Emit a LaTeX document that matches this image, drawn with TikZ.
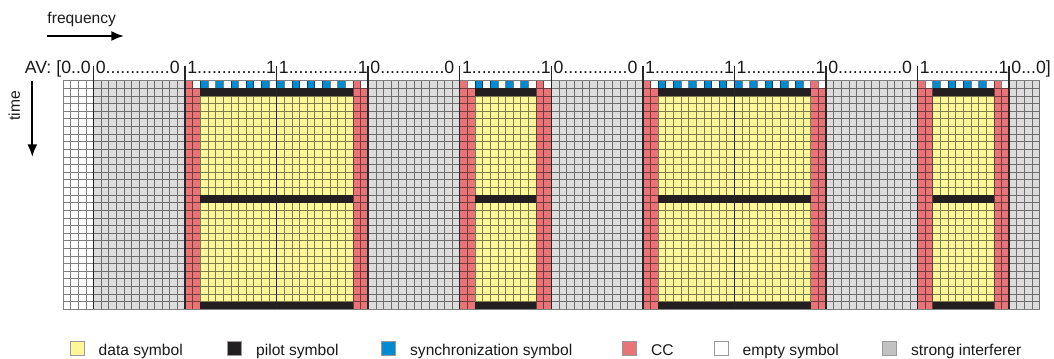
\documentclass[tikz,border=0pt]{standalone}
\usepackage{fontspec}
\setmainfont{Liberation Sans}
\usetikzlibrary{arrows.meta,positioning}

\begin{document}
\begin{tikzpicture}[
        x=0.75pt, y=-0.75pt,
    every node/.style={inner sep=0pt, outer sep=0pt},
    avlabel/.style={font=\fontsize{13.3}{16}\selectfont, text=black!90},
    keylabel/.style={font=\fontsize{11.7}{14}\selectfont, text=black!90},
    keybox/.style={draw=black!40, line width=0.5pt, minimum size=10.5pt},
    cellline/.style={draw=black, draw opacity=0.5, line width=0.5pt},
    bandline/.style={draw=black!85, line width=1.1pt},
    axisarrow/.style={line width=1.5pt, -{Latex[length=9.5pt,width=7.5pt]}}
]
\definecolor{dtx}{HTML}{FFF799}
\definecolor{plx}{HTML}{231F20}
\definecolor{syx}{HTML}{008AD2}
\definecolor{ccx}{HTML}{E87477}
\definecolor{ifx}{HTML}{DCDCDC}
\definecolor{ifkey}{HTML}{C2C2C2}

    \useasboundingbox (0,0) rectangle (1054,358);

    \node [keylabel, anchor=base west] (freq) at (47.5,23.3) {frequency};
    \coordinate (fa) at (47,36);
    \coordinate (fb) at (124,36);
    \draw [axisarrow] (fa) -- (fb);

    \node [keylabel, rotate=90, anchor=base] (time) at (20,106) {time};
    \coordinate (ta) at (32.3,81);
    \coordinate (tb) at (32.3,157);
    \draw [axisarrow] (ta) -- (tb);

    % one cell per symbol: 128 subcarriers, 30 symbols
    \begin{scope}[shift={(63,80.7)}, x=5.7225pt, y=-5.715pt]
    \fill [ifx] (4,0) rectangle (128,30);
    \foreach \a/\b/\n in {16/40/18, 52/64/6, 76/100/18, 112/124/6} {
        \fill [ccx] (\a,0) rectangle (\a+2,30);
        \fill [ccx] (\b-2,0) rectangle (\b,30);
        \fill [white] (\a+1,0) rectangle (\b-2,1);
        \fill [white] (\b-1,0) rectangle (\b,1);
        \fill [dtx] (\a+2,2) rectangle (\b-2,30);
        \foreach \k in {0,2,...,\n}
            \fill [syx] (\a+2+\k,0) rectangle ++(1,1);
    }
    \draw [cellline]
        \foreach \i in {0,...,128} {(\i,0) -- (\i,30)}
        \foreach \j in {0,...,30} {(0,\j) -- (128,\j)};
    \foreach \a/\b in {16/40, 52/64, 76/100, 112/124}
        \foreach \r in {1,15,29}
            \fill [plx] (\a+2,\r) rectangle (\b-2,\r+1);
    \foreach \c in {4,16,...,124}
        \draw [bandline] (\c,-1.95) -- (\c,30);

    \node [avlabel, anchor=base east] (av) at (3.65,-1.01) {AV: [0..0};
    \node [avlabel, anchor=base west] (z1) at (4.3,-1.01) {0.............0};
    \node [avlabel, anchor=base west] (o1) at (16.3,-1.01) {1..............1};
    \node [avlabel, anchor=base west] (o2) at (28.3,-1.01) {1..............1};
    \node [avlabel, anchor=base west] (z2) at (40.3,-1.01) {0.............0};
    \node [avlabel, anchor=base west] (o3) at (52.3,-1.01) {1..............1};
    \node [avlabel, anchor=base west] (z3) at (64.3,-1.01) {0.............0};
    \node [avlabel, anchor=base west] (o4) at (76.3,-1.01) {1..............1};
    \node [avlabel, anchor=base west] (o5) at (88.3,-1.01) {1..............1};
    \node [avlabel, anchor=base west] (z4) at (100.3,-1.01) {0.............0};
    \node [avlabel, anchor=base west] (o6) at (112.3,-1.01) {1..............1};
    \node [avlabel, anchor=base west] (zend) at (124.3,-1.01) {0...0]};
    \end{scope}

    \node [keybox, fill=dtx] (kdata) at (77,348) {};
    \node [keylabel, right=11pt of kdata.south east, anchor=base west] (tdata) {data symbol};
    \node [keybox, fill=plx] (kpilot) at (234.5,348) {};
    \node [keylabel, right=11pt of kpilot.south east, anchor=base west] (tpilot) {pilot symbol};
    \node [keybox, fill=syx] (ksync) at (388.5,348) {};
    \node [keylabel, right=11pt of ksync.south east, anchor=base west] (tsync) {synchronization symbol};
    \node [keybox, fill=ccx] (kcc) at (629.5,348) {};
    \node [keylabel, right=11pt of kcc.south east, anchor=base west] (tcc) {CC};
    \node [keybox, fill=white] (kempty) at (721,348) {};
    \node [keylabel, right=11pt of kempty.south east, anchor=base west] (tempty) {empty symbol};
    \node [keybox, fill=ifkey] (kint) at (889.5,348) {};
    \node [keylabel, right=11pt of kint.south east, anchor=base west] (tint) {strong interferer};
\end{tikzpicture}
\end{document}
